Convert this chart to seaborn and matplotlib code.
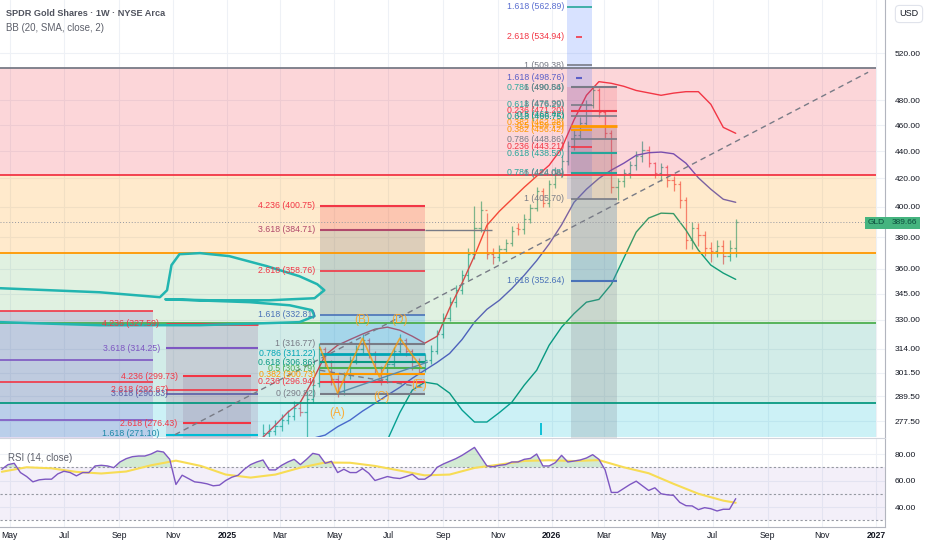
import numpy as np
import pandas as pd
import matplotlib
matplotlib.use("Agg")
import matplotlib.pyplot as plt
import matplotlib.dates as mdates
import matplotlib.transforms as mtransforms
from matplotlib.patches import Rectangle
from matplotlib.ticker import FixedLocator, FixedFormatter, NullLocator
import seaborn as sns

# ---------------- data ----------------
# weekly OHLC bars (first bar = week of 2025-02-10)
bar_start = "2025-02-10"
opens = [270, 272, 273, 275, 278, 280, 284, 282, 288, 296,
         314, 307, 298, 292, 300, 308, 314, 319, 312, 304,
         298, 306, 313, 319, 313, 307, 304, 308, 313, 322,
         331, 340, 347, 356, 369, 386, 398, 369, 367, 372,
         376, 386, 385, 392, 399, 411, 403, 416, 424, 433,
         444, 452, 462, 476, 488, 470, 454, 414, 418, 424,
         430, 436, 441, 431, 424, 428, 419, 416, 405, 378,
         386, 381, 373, 371, 374, 368, 373]
highs = [276, 276, 278, 281, 283, 287, 287, 292, 298, 317,
         315, 308, 300, 302, 310, 316, 322, 320, 313, 305,
         308, 315, 322, 320, 314, 309, 311, 316, 324, 334,
         343, 350, 359, 373, 401, 404, 396, 373, 375, 379,
         387, 389, 395, 402, 414, 413, 419, 428, 437, 448,
         456, 466, 480, 492, 490, 472, 456, 420, 427, 433,
         440, 448, 444, 432, 431, 430, 422, 418, 407, 390,
         389, 384, 377, 378, 378, 378, 392]
lows = [266, 269, 271, 273, 276, 278, 280, 270, 286, 294,
        304, 295, 289, 290, 298, 306, 312, 309, 301, 295,
        296, 304, 311, 310, 303, 301, 302, 306, 311, 320,
        329, 337, 345, 353, 366, 383, 366, 363, 365, 370,
        374, 381, 382, 389, 397, 400, 400, 413, 421, 430,
        441, 450, 460, 474, 466, 450, 410, 405, 414, 420,
        426, 432, 428, 420, 418, 414, 411, 399, 372, 372,
        374, 368, 364, 367, 363, 365, 367]
closes = [272, 273, 275, 278, 280, 284, 282, 288, 295, 314,
          307, 298, 292, 300, 308, 314, 319, 312, 304, 298,
          306, 313, 319, 313, 307, 304, 308, 313, 322, 331,
          340, 347, 356, 369, 386, 398, 369, 367, 372, 376,
          384, 385, 392, 399, 411, 403, 416, 424, 433, 444,
          452, 462, 476, 488, 470, 454, 414, 418, 424, 430,
          436, 441, 431, 424, 428, 419, 416, 405, 378, 386,
          381, 373, 371, 374, 368, 373, 389.66]
last_price = 389.66

# Bollinger bands, read every two weeks
bb_start = "2025-02-10"
bb_upper = [270.0, 275.7, 281.8, 286.6, 297.5, 310.6, 315.9, 319.0, 322.0, 324.7,
            325.8, 324.1, 320.8, 317.0, 320.8, 336.6, 351.2, 368.0, 387.7, 397.1,
            405.3, 413.7, 421.6, 429.5, 442.0, 464.1, 484.0, 495.4, 494.0, 491.5,
            488.0, 486.0, 484.0, 485.8, 487.0, 487.0, 476.6, 458.2, 453.6]
bb_basis = [261.0, 264.0, 266.0, 268.0, 269.5, 271.0, 274.9, 278.0, 282.3, 286.1,
            290.1, 294.0, 298.6, 302.7, 306.8, 311.5, 319.0, 328.6, 335.9, 341.1,
            348.0, 356.0, 365.0, 375.5, 388.0, 403.2, 412.3, 420.0, 426.0, 431.0,
            436.9, 438.8, 439.3, 438.0, 431.0, 420.4, 412.3, 405.3, 403.2]
bb_lower = [240.0, 242.0, 244.0, 246.0, 247.5, 249.0, 251.0, 254.0, 257.0, 262.0,
            268.7, 281.6, 292.6, 296.6, 295.6, 291.1, 282.8, 277.1, 277.1, 281.6,
            286.6, 295.1, 302.7, 315.9, 325.8, 333.4, 340.0, 341.6, 350.5, 366.5,
            383.2, 392.5, 395.8, 395.5, 384.5, 371.6, 362.2, 357.3, 353.5]

# weekly RSI (first value = week of 2024-04-22)
rsi_start = "2024-04-22"
rsi_values = [68.5, 72, 73, 66, 63, 59, 60.5, 61, 61, 65,
              67, 66, 63.5, 66, 66, 71, 71.5, 71, 69.7, 74,
              76.5, 78, 78.5, 78.5, 80, 82.3, 81.5, 76, 57, 64,
              61.5, 59, 58.4, 57.5, 56, 56.5, 60, 62.5, 64, 68.5,
              72, 74, 75.5, 68, 68, 71.5, 74, 76, 72, 76,
              80.5, 79.5, 73, 74.5, 66, 68.5, 66, 66, 69, 65.5,
              60, 61.5, 63, 62, 61.5, 63, 64.7, 61, 61, 64,
              70, 72.5, 74.5, 76.5, 79, 82, 85, 78, 71, 70.4,
              71.5, 72, 74, 74, 76, 76.7, 80, 71, 71, 73.5,
              79, 74, 74.7, 75.5, 77, 79.5, 76, 68, 51, 51,
              54, 57, 59.5, 56, 52.5, 54.5, 50, 49.2, 48.8, 43.5,
              41, 40.8, 38, 39.5, 38.7, 37, 38.3, 38.3, 46.3]
# RSI moving average read every four weeks, plus the last week
rsi_ma_values = [66.6, 70, 69.2, 66.5, 65.3, 66.8, 71.5, 75, 71, 64.5,
                 62.2, 64.5, 69.7, 73.6, 73.4, 71, 67.5, 63.9, 64.5, 69.5,
                 72, 74.8, 75.3, 74.7, 75.4, 70, 65.5, 57.5, 50, 44.8, 43.2]

price_ticks = [277.5, 289.5, 301.5, 314, 330, 345, 360, 380, 400, 420, 440, 460, 480, 520]
rsi_ticks = [40, 60, 80]

# horizontal zones drawn across the chart
zone_tops = [506.9, 422.3, 369.7, 328.4, 286.1]
zone_bottoms = [422.3, 369.7, 328.4, 286.1, 240.0]
zone_colors = ["#f23645", "#ff9800", "#4caf50", "#089981", "#00bcd4"]
zone_alphas = [0.2, 0.2, 0.17, 0.18, 0.2]
zone_edge_colors = ["#787b86", "#f23645", "#ff9800", "#4caf50", "#089981"]

# fib drawings on the left
left_fills = [("2024-01-01", "2024-10-09", 240, 334.8, "#7e57c2", 0.22),
              ("2024-10-24", "2025-02-04", 240, 327.59, "#9c6b98", 0.22),
              ("2024-11-12", "2025-01-28", 240, 299.73, "#8e6a8f", 0.18)]
left_lines = [(334.8, "#f23645", "2024-01-01", "2024-10-09", 1.2),
              (307.9, "#7e57c2", "2024-01-01", "2024-10-09", 1.2),
              (296.6, "#f23645", "2024-01-01", "2024-10-09", 1.2),
              (278.0, "#7e57c2", "2024-01-01", "2024-10-09", 1.2),
              (327.59, "#f23645", "2024-10-24", "2025-02-04", 2.0),
              (314.25, "#7e57c2", "2024-10-24", "2025-02-04", 1.5),
              (292.67, "#f23645", "2024-10-24", "2025-02-04", 1.2),
              (290.83, "#5b5ea6", "2024-10-24", "2025-02-04", 1.2),
              (271.10, "#00bcd4", "2024-10-24", "2025-02-04", 1.5),
              (299.73, "#f23645", "2024-11-12", "2025-01-28", 1.5),
              (276.43, "#f23645", "2024-11-12", "2025-01-28", 1.5)]
left_labels = [("4.236 (327.59)", 327.59, "#f23645", "2024-10-16"),
               ("3.618 (314.25)", 314.25, "#7e57c2", "2024-10-17"),
               ("4.236 (299.73)", 299.73, "#f23645", "2024-11-06"),
               ("2.618 (292.67)", 292.67, "#f23645", "2024-10-26"),
               ("3.618 (290.83)", 290.83, "#5b5ea6", "2024-10-26"),
               ("2.618 (276.43)", 276.43, "#f23645", "2024-11-06"),
               ("1.618 (271.10)", 271.6, "#1e88a8", "2024-10-17")]

# fib drawing in the middle (triangle box)
mid_x = ("2025-04-15", "2025-08-11")
mid_label_x = "2025-04-10"
mid_levels = [400.75, 384.71, 358.76, 332.81, 316.77, 311.22, 306.86, 303.79, 300.73, 296.94, 290.82]
mid_names = ["4.236", "3.618", "2.618", "1.618", "1", "0.786", "0.618", "0.5", "0.382", "0.236", "0"]
mid_colors = ["#f23645", "#b0496b", "#f23645", "#4a72b8", "#787b86", "#00a5b5",
              "#089981", "#4caf50", "#ff9800", "#f23645", "#787b86"]
mid_widths = [1.5, 1.5, 1.2, 1.2, 1.5, 2.0, 1.5, 1.5, 1.5, 1.5, 1.5]
mid_fills = [(384.71, 400.75, "#f23645", 0.2), (332.81, 384.71, "#787b86", 0.25),
             (316.77, 332.81, "#2196f3", 0.25), (290.82, 316.77, "#5d7bb0", 0.2)]

# fib drawings stacked in the Jan-Mar 2026 strip
strip_label_x = "2026-01-15"
strip_labels = [("3.618 (574.44)", 575.5, "#5b6fd0"),
                ("1.618 (562.89)", 562.89, "#5b6fd0"), ("2.618 (534.94)", 534.94, "#f23645"),
                ("1 (509.38)", 509.38, "#787b86"), ("1.618 (498.76)", 498.76, "#5b5fc7"),
                ("0.786 (490.84)", 490.84, "#26a69a"), ("1 (490.56)", 490.2, "#787b86"),
                ("0.618 (476.29)", 476.29, "#26a69a"), ("1 (476.90)", 476.9, "#787b86"),
                ("0.236 (471.20)", 471.2, "#f23645"), ("0.5 (468.42)", 468.4, "#26a69a"),
                ("0.618 (466.75)", 466.7, "#089981"), ("0.382 (462.28)", 462.3, "#ff9800"),
                ("0.5 (459.75)", 459.7, "#ff9800"), ("0.382 (456.42)", 456.4, "#ff9800"),
                ("0.786 (448.86)", 448.86, "#787b86"), ("0.236 (443.21)", 443.21, "#f23645"),
                ("0.618 (438.50)", 438.5, "#26a69a"), ("0.786 (424.08)", 424.08, "#26a69a"),
                ("1 (424.08)", 423.5, "#787b86"), ("1 (405.70)", 405.7, "#787b86"),
                ("1.618 (352.64)", 352.64, "#4a72b8")]
strip_lines = [(562.89, "#26a69a", "2026-01-18", "2026-02-15", 1.2),
               (534.94, "#f23645", "2026-01-28", "2026-02-04", 1.2),
               (509.38, "#787b86", "2026-01-18", "2026-02-15", 1.2),
               (498.76, "#5b5fc7", "2026-01-28", "2026-02-04", 1.5),
               (490.84, "#787b86", "2026-01-23", "2026-03-15", 1.5),
               (476.29, "#787b86", "2026-01-23", "2026-02-15", 1.2),
               (471.20, "#f23645", "2026-01-23", "2026-03-15", 1.5),
               (467.5, "#787b86", "2026-01-23", "2026-03-15", 1.2),
               (459.2, "#ff9800", "2026-01-23", "2026-03-15", 2.0),
               (456.4, "#ff9800", "2026-01-23", "2026-02-15", 1.5),
               (448.86, "#787b86", "2026-01-23", "2026-03-15", 1.2),
               (443.21, "#f23645", "2026-01-23", "2026-02-15", 1.2),
               (438.50, "#26a69a", "2026-01-23", "2026-03-15", 1.5),
               (424.08, "#26a69a", "2026-01-23", "2026-03-15", 1.5),
               (405.70, "#787b86", "2026-01-23", "2026-03-15", 1.2),
               (352.64, "#4a72b8", "2026-01-23", "2026-03-15", 1.5),
               (384.71, "#787b86", "2025-08-11", "2025-10-26", 1.0)]
strip_fills = [("2026-01-18", "2026-02-15", 405.7, 580, "#2962ff", 0.18),
               ("2026-01-18", "2026-03-15", 424.08, 490.84, "#f23645", 0.15),
               ("2026-01-23", "2026-03-15", 240, 459.2, "#787b86", 0.22),
               ("2026-01-23", "2026-03-15", 352.64, 405.7, "#2196f3", 0.15)]

# trend line, triangle and ABCDE wave
trend_dates = ["2024-11-03", "2026-12-23"]
trend_prices = [271.2, 503.4]
tri_upper_dates = ["2025-04-15", "2025-08-07"]
tri_upper_prices = [302.7, 294.1]
tri_lower_dates = ["2025-05-05", "2025-08-14"]
tri_lower_prices = [291.1, 306.9]
wave_dates = ["2025-04-15", "2025-05-05", "2025-06-02", "2025-06-21", "2025-07-14", "2025-08-07"]
wave_prices = [314.8, 291.1, 319.7, 299.2, 319.7, 304.3]
wave_names = ["(A)", "(B)", "(C)", "(D)", "(E)"]
wave_label_dates = ["2025-05-05", "2025-06-02", "2025-06-23", "2025-07-14", "2025-08-05"]
wave_label_prices = [281.3, 329.7, 289.1, 329.7, 295.1]

# freehand teal loop
loop_dates = ["2024-04-20", "2024-06-15", "2024-08-10", "2024-10-17", "2024-10-25", "2024-10-30",
              "2024-11-08", "2024-12-01", "2025-01-03", "2025-02-14", "2025-03-23", "2025-04-12",
              "2025-04-20", "2025-04-09", "2025-02-17", "2024-12-12", "2024-10-23", "2025-01-26",
              "2025-03-12", "2025-04-06", "2025-04-09", "2025-03-23", "2024-12-01", "2024-08-10",
              "2024-04-20"]
loop_prices = [348.2, 347.0, 345.8, 342.9, 347.0, 362.2, 369.0, 369.7, 367.8, 361.6, 355.4, 350.6,
               347.0, 342.3, 341.1, 341.1, 341.7, 340.0, 338.2, 335.4, 332.0, 328.6, 326.9, 326.9,
               328.6]


def dn(s):
    return mdates.date2num(pd.Timestamp(s))


sns.set_theme(style="white")
plt.rcParams["font.family"] = ["Liberation Sans", "DejaVu Sans"]

fig = plt.figure(figsize=(9.32, 5.5), dpi=100)
ax = fig.add_axes([0, 113 / 550, 885 / 932, 437 / 550])
axr = fig.add_axes([0, 23 / 550, 885 / 932, 89 / 550])

# ---------------- main price panel ----------------
bb = pd.DataFrame({
    "date": pd.date_range(bb_start, periods=len(bb_upper), freq="14D"),
    "upper": bb_upper, "basis": bb_basis, "lower": bb_lower})
sns.lineplot(data=bb, x="date", y="upper", ax=ax, color="#f23645", linewidth=1, zorder=2.5)
sns.lineplot(data=bb, x="date", y="basis", ax=ax, color="#5b55c9", linewidth=1, zorder=2.5)
sns.lineplot(data=bb, x="date", y="lower", ax=ax, color="#089981", linewidth=1, zorder=2.5)

bar_dates = pd.date_range(bar_start, periods=len(closes), freq="7D")
bx = mdates.date2num(bar_dates)
up = np.array(closes) >= np.array(opens)
bar_cols = np.where(up, "#089981", "#f23645")
ax.vlines(bx, lows, highs, colors=bar_cols, lw=0.9, alpha=0.65, zorder=2)
ax.hlines(opens, bx - 2.5, bx, colors=bar_cols, lw=0.9, alpha=0.65, zorder=2)
ax.hlines(closes, bx, bx + 2.5, colors=bar_cols, lw=0.9, alpha=0.65, zorder=2)

zx = [dn("2024-01-01"), dn("2027-01-01")]
for top, bot, c, a, ec in zip(zone_tops, zone_bottoms, zone_colors, zone_alphas, zone_edge_colors):
    ax.fill_between(zx, bot, top, color=c, alpha=a, lw=0, zorder=3)
    ax.hlines(top, zx[0], zx[1], colors=ec, lw=1.3, zorder=4)

for x0, x1, lo, hi, c, a in left_fills:
    ax.fill_between([dn(x0), dn(x1)], lo, hi, color=c, alpha=a, lw=0, zorder=3.2)
for p, c, x0, x1, w in left_lines:
    ax.hlines(p, dn(x0), dn(x1), colors=c, lw=w, zorder=4)
for t, p, c, xr in left_labels:
    ax.text(dn(xr), p, t, color=c, fontsize=6.3, ha="right", va="center", zorder=6)

for lo, hi, c, a in mid_fills:
    ax.fill_between([dn(mid_x[0]), dn(mid_x[1])], lo, hi, color=c, alpha=a, lw=0, zorder=3.2)
for p, n, c, w in zip(mid_levels, mid_names, mid_colors, mid_widths):
    ax.hlines(p, dn(mid_x[0]), dn(mid_x[1]), colors=c, lw=w, zorder=4)
    ax.text(dn(mid_label_x), p, f"{n} ({p:.2f})", color=c, fontsize=6.3,
            ha="right", va="center", zorder=6)

for x0, x1, lo, hi, c, a in strip_fills:
    ax.fill_between([dn(x0), dn(x1)], lo, hi, color=c, alpha=a, lw=0, zorder=3.2)
for p, c, x0, x1, w in strip_lines:
    ax.hlines(p, dn(x0), dn(x1), colors=c, lw=w, zorder=4)
for t, p, c in strip_labels:
    ax.text(dn(strip_label_x), p, t, color=c, fontsize=6.3, ha="right", va="center", zorder=6)

ax.plot([dn(d) for d in trend_dates], trend_prices, color="#787b86", lw=1,
        ls=(0, (4, 3)), zorder=5)
ax.plot([dn(d) for d in tri_upper_dates], tri_upper_prices, color="#787b86", lw=1,
        ls=(0, (4, 3)), zorder=5)
ax.plot([dn(d) for d in tri_lower_dates], tri_lower_prices, color="#5d8aa8", lw=1, zorder=5)
ax.plot([dn(d) for d in wave_dates], wave_prices, color="#ff9800", alpha=0.75, lw=1.2, zorder=5)
for t, d, p in zip(wave_names, wave_label_dates, wave_label_prices):
    ax.text(dn(d), p, t, color="#ffa726", alpha=0.9, fontsize=8.5, ha="center", va="center", zorder=6)

ax.plot([dn(d) for d in loop_dates], loop_prices, color="#22b5b0", lw=1.8,
        solid_capstyle="round", zorder=5.5)
ax.vlines(dn("2025-12-20"), 271, 276.5, colors="#00bcd4", lw=1.3, zorder=5)

ax.axhline(last_price, color="#9598a1", lw=0.7, ls=(0, (1, 2)), zorder=5)

ax.set_yscale("log")
ax.set_ylim(270.1, 569.5)
ax.yaxis.set_major_locator(FixedLocator(price_ticks))
ax.yaxis.set_major_formatter(FixedFormatter([f"{t:.2f}" for t in price_ticks]))
ax.yaxis.set_minor_locator(NullLocator())
ax.set_xlabel("")
ax.set_ylabel("")

# ---------------- RSI panel ----------------
rsi = pd.DataFrame({"date": pd.date_range(rsi_start, periods=len(rsi_values), freq="7D"),
                    "rsi": rsi_values})
ma_dates = list(pd.date_range(rsi_start, periods=len(rsi_ma_values) - 1, freq="28D"))
ma_dates.append(rsi["date"].iloc[-1])
rsi_ma = pd.DataFrame({"date": ma_dates, "ma": rsi_ma_values})

axr.axhspan(30, 70, color="#7e57c2", alpha=0.09, lw=0, zorder=1)
rx = mdates.date2num(rsi["date"])
rv = np.array(rsi_values)
axr.fill_between(rx, 70, rv, where=rv > 70, interpolate=True, color="#4caf50",
                 alpha=0.25, lw=0, zorder=1.5)
for lvl in (70, 50, 30):
    axr.axhline(lvl, color="#9598a1", lw=0.8, ls=(0, (2, 2)), zorder=2)
sns.lineplot(data=rsi_ma, x="date", y="ma", ax=axr, color="#f7dc55", linewidth=1.5, zorder=3)
sns.lineplot(data=rsi, x="date", y="rsi", ax=axr, color="#7e57c2", linewidth=1, zorder=4)
axr.set_ylim(24.9, 92.1)
axr.yaxis.set_major_locator(FixedLocator(rsi_ticks))
axr.yaxis.set_major_formatter(FixedFormatter([f"{t:.2f}" for t in rsi_ticks]))
axr.set_xlabel("")
axr.set_ylabel("")

# ---------------- shared axis styling ----------------
month_ticks = pd.date_range("2024-05-01", "2027-01-01", freq="2MS")
month_labels = [str(d.year) if d.month == 1 else d.strftime("%b") for d in month_ticks]
for a in (ax, axr):
    a.set_xlim(dn("2024-04-20"), dn("2027-01-11"))
    a.xaxis.set_major_locator(FixedLocator(mdates.date2num(month_ticks)))
    a.yaxis.tick_right()
    a.grid(True, color="#eef1f6", lw=0.8)
    a.set_axisbelow(True)
    a.tick_params(axis="y", length=0, pad=7, labelsize=6, labelcolor="#131722")
    for s in ("left", "top", "bottom"):
        a.spines[s].set_visible(False)
    a.spines["right"].set_color("#b2b5be")
    a.spines["right"].set_linewidth(0.8)
ax.tick_params(axis="x", labelbottom=False, length=0)
axr.xaxis.set_major_formatter(FixedFormatter(month_labels))
axr.tick_params(axis="x", length=0, pad=3, labelsize=6.2, labelcolor="#131722")
for lab, txt in zip(axr.get_xticklabels(), month_labels):
    if txt.isdigit():
        lab.set_fontweight("bold")
axr.spines["top"].set_visible(True)
axr.spines["top"].set_color("#d1d4dc")
axr.spines["top"].set_linewidth(0.8)
axr.spines["bottom"].set_visible(True)
axr.spines["bottom"].set_color("#b2b5be")
axr.spines["bottom"].set_linewidth(0.8)

# ---------------- header texts and price label ----------------
ax.text(6 / 885, 1 - 14 / 437, "SPDR Gold Shares \u00b7 1W \u00b7 NYSE Arca", transform=ax.transAxes,
        fontsize=6.6, fontweight="bold", color="#50535e", ha="left", va="center", zorder=7)
ax.text(6 / 885, 1 - 28 / 437, "BB (20, SMA, close, 2)", transform=ax.transAxes,
        fontsize=7, color="#5d606b", ha="left", va="center", zorder=7)
axr.text(8 / 885, (527 - 458) / 89, "RSI (14, close)", transform=axr.transAxes,
         fontsize=7, color="#5d606b", ha="left", va="center", zorder=7)
ax.text(909 / 885, 1 - 14 / 437, "USD", transform=ax.transAxes, fontsize=6.5, color="#131722",
        ha="center", va="center", clip_on=False, zorder=7,
        bbox=dict(boxstyle="round,pad=0.45", fc="white", ec="#e0e3eb", lw=0.8))

blend = mtransforms.blended_transform_factory(ax.transAxes, ax.transData)
ax.add_patch(Rectangle((865 / 885, 385.3), 55 / 885, 393.3 - 385.3, transform=blend,
                       facecolor="#45b47f", edgecolor="none", clip_on=False, zorder=8))
ax.text(868 / 885, last_price, "GLD", transform=blend, fontsize=6, color="#0d4d3d",
        ha="left", va="center", clip_on=False, zorder=9)
ax.text(892 / 885, last_price, f"{last_price:.2f}", transform=blend, fontsize=6, color="#0d4d3d",
        ha="left", va="center", clip_on=False, zorder=9)

fig.savefig("out.png", dpi=100)
